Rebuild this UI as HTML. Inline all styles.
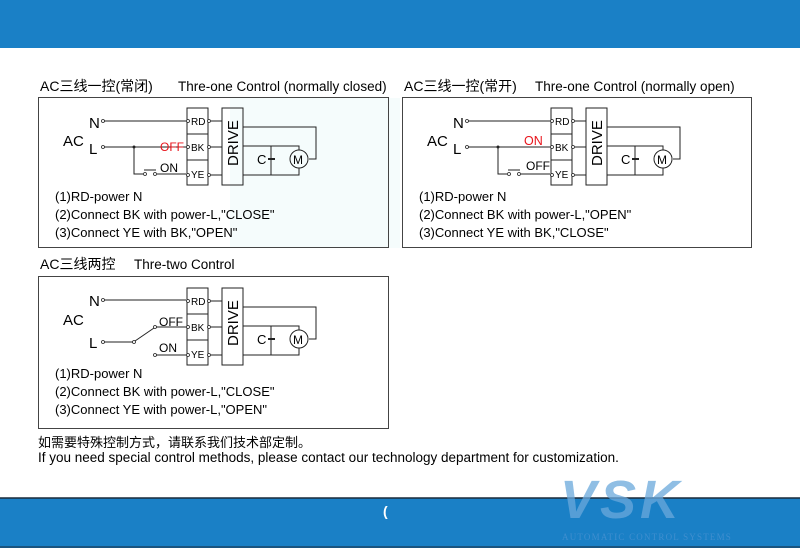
<!DOCTYPE html>
<html><head><meta charset="utf-8"><style>
body{margin:0;width:800px;height:548px;overflow:hidden;background:#fff;font-family:"Liberation Sans","Noto Sans CJK SC",sans-serif}
</style></head><body>
<svg width="800" height="548" viewBox="0 0 800 548" xmlns="http://www.w3.org/2000/svg" font-family="Liberation Sans, Noto Sans CJK SC, sans-serif">
<defs>
<g id="core">
 <rect x="187" y="108" width="21" height="77" fill="none" stroke="#222" stroke-width="1"/>
 <line x1="187" y1="134" x2="208" y2="134" stroke="#222"/>
 <line x1="187" y1="160" x2="208" y2="160" stroke="#222"/>
 <text x="191" y="125" font-size="10">RD</text>
 <text x="191" y="151" font-size="10">BK</text>
 <text x="191" y="178" font-size="10">YE</text>
 <g fill="#fff" stroke="#222" stroke-width="0.8">
  <circle cx="188" cy="121" r="1.5"/><circle cx="188" cy="147" r="1.5"/><circle cx="188" cy="175" r="1.5"/>
  <circle cx="209" cy="121" r="1.5"/><circle cx="209" cy="147" r="1.5"/><circle cx="209" cy="175" r="1.5"/>
 </g>
 <g stroke="#222" fill="none" stroke-width="1">
  <line x1="211" y1="121" x2="222" y2="121"/><line x1="211" y1="147" x2="222" y2="147"/><line x1="211" y1="175" x2="222" y2="175"/>
  <rect x="222" y="108" width="21" height="77"/>
  <polyline points="243,127 316,127 316,159 309,159"/>
  <polyline points="243,146 299,146 299,150"/>
  <polyline points="243,175 299,175 299,168"/>
  <line x1="271" y1="146" x2="271" y2="175"/>
  <circle cx="299" cy="159" r="9"/>
 </g>
 <rect x="268" y="158" width="7" height="2" fill="#222"/>
 <text x="257" y="164" font-size="13">C</text>
 <text x="293" y="164" font-size="12">M</text>
 <text transform="translate(238,166) rotate(-90)" font-size="15">DRIVE</text>
</g>
</defs>
<rect x="0" y="0" width="800" height="48" fill="#1a80c6"/>
<rect x="230" y="98" width="170" height="150" fill="#eefafa" opacity="0.6"/>

<!-- Titles -->
<text x="40" y="91" font-size="14">AC三线一控(常闭)</text>
<text x="178" y="91" font-size="13.5">Thre-one Control (normally closed)</text>
<text x="404" y="91" font-size="14">AC三线一控(常开)</text>
<text x="535" y="91" font-size="13.5">Thre-one Control (normally open)</text>
<text x="40" y="269" font-size="14">AC三线两控</text>
<text x="134" y="269" font-size="13.5">Thre-two Control</text>

<g fill="none" stroke="#444" stroke-width="1">
<rect x="38.5" y="97.5" width="350" height="150"/>
<rect x="402.5" y="97.5" width="349" height="150"/>
<rect x="38.5" y="276.5" width="350" height="152"/>
</g>

<!-- Diagram 1 -->
<g>
 <use href="#core"/>
 <text x="89" y="128" font-size="15">N</text>
 <text x="63" y="146" font-size="15">AC</text>
 <text x="89" y="154" font-size="15">L</text>
 <g stroke="#222" fill="none">
  <line x1="104" y1="121" x2="186" y2="121"/>
  <line x1="104" y1="147" x2="186" y2="147"/>
  <polyline points="134,147 134,174 143,174"/>
  <line x1="157" y1="174" x2="186" y2="174"/>
  <line x1="144" y1="170" x2="156" y2="170"/>
 </g>
 <g fill="#fff" stroke="#222" stroke-width="0.8"><circle cx="103" cy="121" r="1.5"/><circle cx="103" cy="147" r="1.5"/><circle cx="145" cy="174" r="1.5"/><circle cx="155" cy="174" r="1.5"/></g>
 <circle cx="134" cy="147" r="1.5" fill="#222"/>
 <text x="160" y="151" font-size="12" fill="#e8141b">OFF</text>
 <text x="160" y="172" font-size="12">ON</text>
 <text x="55" y="201" font-size="13">(1)RD-power N</text>
 <text x="55" y="219" font-size="13">(2)Connect BK with power-L,"CLOSE"</text>
 <text x="55" y="237" font-size="13">(3)Connect YE with BK,"OPEN"</text>
</g>

<!-- Diagram 2 -->
<g transform="translate(364,0)">
 <use href="#core"/>
 <text x="89" y="128" font-size="15">N</text>
 <text x="63" y="146" font-size="15">AC</text>
 <text x="89" y="154" font-size="15">L</text>
 <g stroke="#222" fill="none">
  <line x1="104" y1="121" x2="186" y2="121"/>
  <line x1="104" y1="147" x2="186" y2="147"/>
  <polyline points="134,147 134,174 143,174"/>
  <line x1="157" y1="174" x2="186" y2="174"/>
  <line x1="144" y1="170" x2="156" y2="170"/>
 </g>
 <g fill="#fff" stroke="#222" stroke-width="0.8"><circle cx="103" cy="121" r="1.5"/><circle cx="103" cy="147" r="1.5"/><circle cx="145" cy="174" r="1.5"/><circle cx="155" cy="174" r="1.5"/></g>
 <circle cx="134" cy="147" r="1.5" fill="#222"/>
 <text x="160" y="145" font-size="12.5" fill="#e8141b">ON</text>
 <text x="162" y="170" font-size="12">OFF</text>
 <text x="55" y="201" font-size="13">(1)RD-power N</text>
 <text x="55" y="219" font-size="13">(2)Connect BK with power-L,"OPEN"</text>
 <text x="55" y="237" font-size="13">(3)Connect YE with BK,"CLOSE"</text>
</g>

<!-- Diagram 3 -->
<g transform="translate(0,180)">
 <use href="#core"/>
 <text x="89" y="126" font-size="15">N</text>
 <text x="63" y="145" font-size="15">AC</text>
 <text x="89" y="168" font-size="15">L</text>
 <g stroke="#222" fill="none">
  <line x1="104" y1="120" x2="186" y2="120"/>
  <line x1="104" y1="162" x2="133" y2="162"/>
  <line x1="135" y1="161" x2="154" y2="148"/>
  <line x1="156" y1="147" x2="186" y2="147"/>
  <line x1="156" y1="175" x2="186" y2="175"/>
 </g>
 <g fill="#fff" stroke="#222" stroke-width="0.8"><circle cx="103" cy="120" r="1.5"/><circle cx="103" cy="162" r="1.5"/><circle cx="134" cy="162" r="1.5"/><circle cx="155" cy="147" r="1.5"/><circle cx="155" cy="175" r="1.5"/></g>
 <text x="159" y="146" font-size="12">OFF</text>
 <text x="159" y="172" font-size="12">ON</text>
 <text x="55" y="198" font-size="13">(1)RD-power N</text>
 <text x="55" y="216" font-size="13">(2)Connect BK with power-L,"CLOSE"</text>
 <text x="55" y="234" font-size="13">(3)Connect YE with power-L,"OPEN"</text>
</g>

<text x="38" y="447" font-size="13">如需要特殊控制方式，请联系我们技术部定制。</text>
<text x="38" y="462" font-size="13.5">If you need special control methods, please contact our technology department for customization.</text>

<rect x="0" y="498" width="800" height="50" fill="#1a80c6"/>
<line x1="0" y1="498" x2="800" y2="498" stroke="#1a2a3a" stroke-width="1.5"/>
<line x1="0" y1="547" x2="800" y2="547" stroke="#1a2a3a" stroke-width="1"/>
<text x="383" y="516" font-size="14" font-weight="bold" fill="#fff">(</text>
<text x="560" y="518" font-size="54" font-weight="bold" font-style="italic" fill="#6aa9dc" opacity="0.75" letter-spacing="4">VSK</text>
<text x="562" y="540" font-size="9" font-family="Liberation Serif, serif" fill="#3f8ecf" letter-spacing="1.2">AUTOMATIC CONTROL SYSTEMS</text>
</svg>
</body></html>
